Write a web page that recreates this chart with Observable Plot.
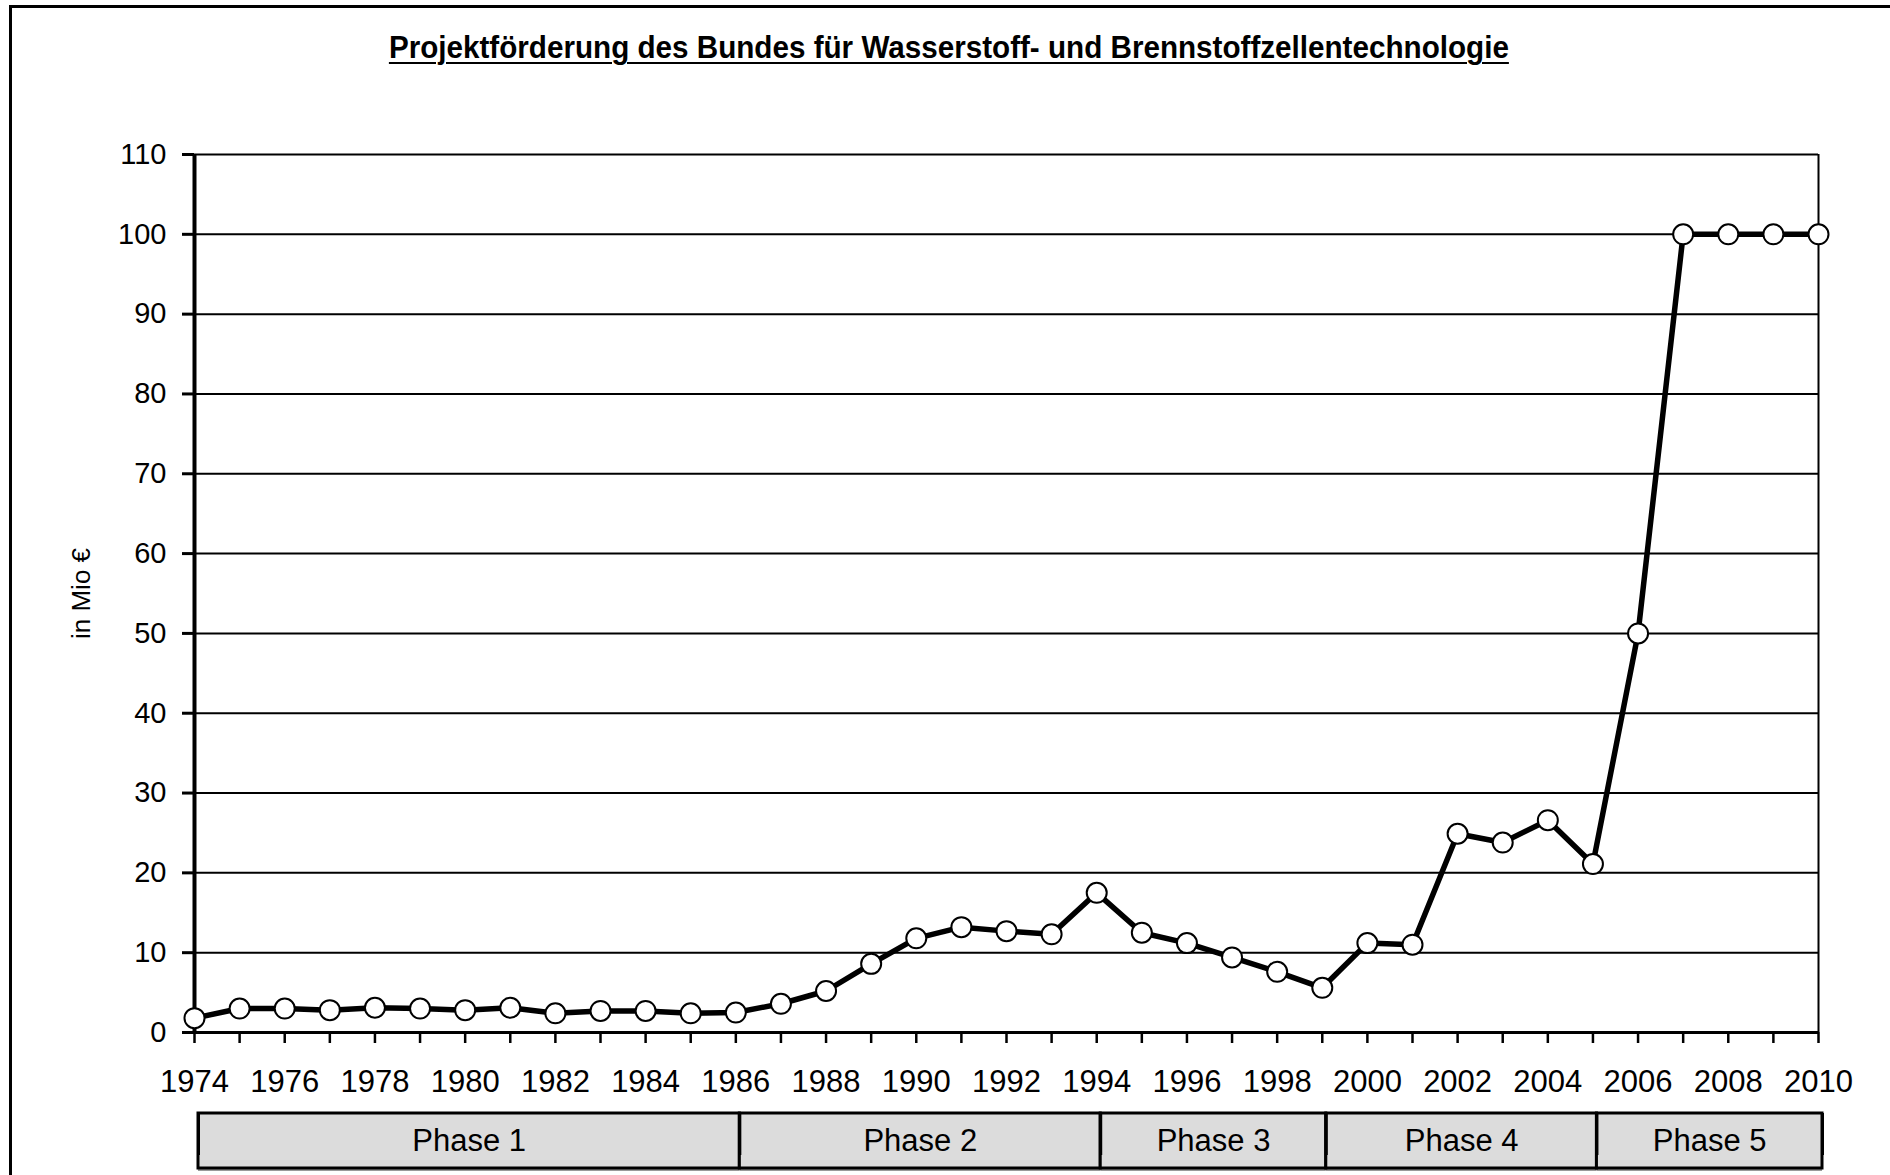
<!DOCTYPE html>
<html>
<head>
<meta charset="utf-8">
<script src="https://cdn.jsdelivr.net/npm/d3@7"></script>
<script src="https://cdn.jsdelivr.net/npm/@observablehq/plot@0.6"></script>
<style>
  html, body { margin: 0; padding: 0; background: #fff; }
  #page { position: relative; width: 1890px; height: 1175px; overflow: hidden; background: #fff; font-family: "Liberation Sans", Arial, sans-serif; }
  #border { position: absolute; left: 9px; top: 5px; width: 1950px; height: 1250px; border-left: 3px solid #000; border-top: 3px solid #000; }
  #title { position: absolute; top: 30px; left: 0; width: 1898px; text-align: center; }
  #title span { display: inline-block; font-family: "Liberation Sans", Arial, sans-serif; font-weight: bold; font-size: 31px; text-decoration: underline; text-decoration-thickness: 2px; text-underline-offset: 4px; color: #000; white-space: nowrap; transform-origin: 50% 50%; }
  #chart { position: absolute; top: 110px; left: 0; }
  #phases { position: absolute; top: 1095px; left: 0; }
</style>
</head>
<body>
<div id="page">
  <div id="border"></div>
  <div id="title"><span id="titleText">Projektförderung des Bundes für Wasserstoff- und Brennstoffzellentechnologie</span></div>
  <div id="chart"></div>
  <div id="phases"></div>
</div>
<script>
const years = [1974,1975,1976,1977,1978,1979,1980,1981,1982,1983,1984,1985,1986,1987,1988,1989,1990,1991,1992,1993,1994,1995,1996,1997,1998,1999,2000,2001,2002,2003,2004,2005,2006,2007,2008,2009,2010];
const values = [1.8,3.0,3.0,2.8,3.1,3.0,2.8,3.1,2.4,2.7,2.7,2.4,2.5,3.6,5.2,8.6,11.8,13.2,12.7,12.3,17.5,12.5,11.2,9.4,7.6,5.6,11.2,11.0,24.9,23.8,26.6,21.1,50,100,100,100,100];
const yTicks = [0,10,20,30,40,50,60,70,80,90,100,110];
const yearLabels = [1974,1976,1978,1980,1982,1984,1986,1988,1990,1992,1994,1996,1998,2000,2002,2004,2006,2008,2010];
const phaseNames = ["Phase 1","Phase 2","Phase 3","Phase 4","Phase 5"];
const phaseStart = [1974,1986,1994,1999,2005];
const phaseEnd = [1986,1994,1999,2005,2010];
const yLabel = "in Mio €";

const data = years.map((y, i) => ({year: y, value: values[i]}));
const phases = phaseNames.map((n, i) => ({name: n, x1: phaseStart[i], x2: phaseEnd[i], mid: (phaseStart[i] + phaseEnd[i]) / 2}));
const boundaries = [phaseStart[0], ...phaseEnd];

// compress the title horizontally to mimic the narrow typeface of the original
const t = document.getElementById("titleText");
const tw = t.getBoundingClientRect().width;
t.style.transform = `scaleX(${1120 / tw})`;

const W = 1890, ML = 194, MR = 72;
const font = "Liberation Sans, Arial, sans-serif";

const chart = Plot.plot({
  width: W,
  height: 992,
  marginLeft: ML,
  marginRight: MR,
  marginTop: 44,
  marginBottom: 70,
  style: {fontFamily: font, color: "#000", background: "transparent", overflow: "visible"},
  x: {domain: [1974, 2010]},
  y: {domain: [0, 110]},
  marks: [
    Plot.ruleY(yTicks, {stroke: "#000", strokeWidth: 2}),
    Plot.ruleX([2010], {y1: 0, y2: 110, stroke: "#000", strokeWidth: 2}),
    Plot.axisY({ticks: yTicks, tickSize: 12, tickPadding: 16, fontSize: 29, strokeWidth: 3, label: null}),
    Plot.axisX({ticks: years, tickSize: 11, strokeWidth: 2.5, text: null, label: null}),
    Plot.axisX({ticks: yearLabels, tickSize: 0, tickPadding: 37, fontSize: 31, tickFormat: d => String(d), label: null}),
    Plot.ruleX([1974], {y1: 0, y2: 110, stroke: "#000", strokeWidth: 4}),
    Plot.ruleY([0], {stroke: "#000", strokeWidth: 3}),
    Plot.text([yLabel], {frameAnchor: "left", textAnchor: "middle", dx: -113, rotate: -90, fontSize: 26, fill: "#000"}),
    Plot.line(data, {x: "year", y: "value", stroke: "#000", strokeWidth: 5.5, strokeLinejoin: "round"}),
    Plot.dot(data, {x: "year", y: "value", r: 10, fill: "#fff", stroke: "#000", strokeWidth: 2})
  ]
});
document.getElementById("chart").appendChild(chart);

const phasePlot = Plot.plot({
  width: W,
  height: 80,
  marginLeft: ML,
  marginRight: MR,
  marginTop: 18,
  marginBottom: 7,
  style: {fontFamily: font, color: "#000", background: "transparent", overflow: "visible"},
  x: {domain: [1974, 2010], axis: null},
  y: {domain: [0, 1], axis: null},
  marks: [
    Plot.rect(phases, {x1: "x1", x2: "x2", y1: 0, y2: 1, fill: "#9a9a9a", dx: 4, dy: 3}),
    Plot.rect(phases, {x1: "x1", x2: "x2", y1: 0, y2: 1, fill: "#dcdcdc", stroke: "#000", strokeWidth: 3, dx: 4}),
    Plot.ruleX(boundaries, {y1: 0, y2: 1, insetTop: -13, stroke: "#000", strokeWidth: 3, dx: 4}),
    Plot.text(phases, {x: "mid", y: 0.5, text: "name", fontSize: 31, fill: "#000", dx: 4})
  ]
});
document.getElementById("phases").appendChild(phasePlot);
</script>
</body>
</html>
